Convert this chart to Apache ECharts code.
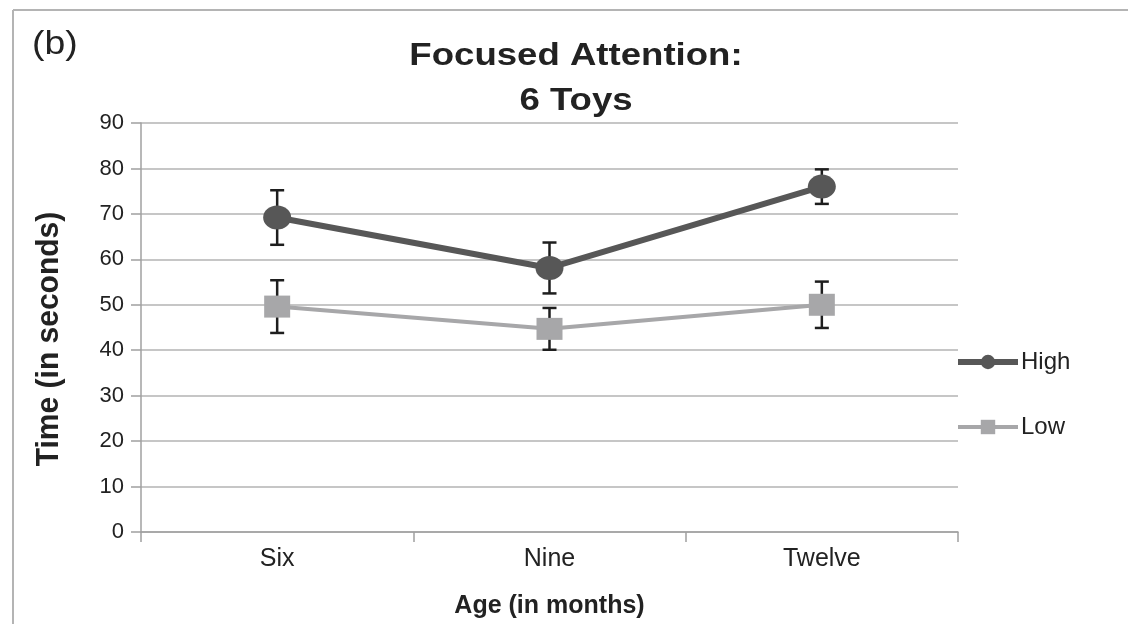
<!DOCTYPE html>
<html>
<head>
<meta charset="utf-8">
<script src="https://cdn.jsdelivr.net/npm/echarts@6/dist/echarts.min.js"></script>
<style>html,body{margin:0;padding:0;background:#fff;}#c{width:1128px;height:624px;}</style>
</head>
<body>
<div id="c"></div>
<script>
var categories = ['Six', 'Nine', 'Twelve'];
var highMean = [69.2, 58.1, 76.0];
var highErr = [6.0, 5.6, 3.8];
var lowMean = [49.6, 44.7, 50.0];
var lowErr = [5.8, 4.6, 5.1];
var yTicks = [0, 10, 20, 30, 40, 50, 60, 70, 80, 90];
var titleLines = ['Focused Attention:', '6 Toys'];

function errData(mean, err) {
  return mean.map(function (m, i) { return [i, m - err[i], m + err[i]]; });
}
function errRender(params, api) {
  var x = api.value(0);
  var lo = api.coord([x, api.value(1)]);
  var hi = api.coord([x, api.value(2)]);
  var hw = 7;
  var st = { stroke: '#1e1e1e', lineWidth: 2.5 };
  return {
    type: 'group',
    children: [
      { type: 'line', shape: { x1: lo[0], y1: lo[1], x2: hi[0], y2: hi[1] }, style: st },
      { type: 'line', shape: { x1: lo[0] - hw, y1: lo[1], x2: lo[0] + hw, y2: lo[1] }, style: st },
      { type: 'line', shape: { x1: hi[0] - hw, y1: hi[1], x2: hi[0] + hw, y2: hi[1] }, style: st }
    ]
  };
}

var chart = echarts.init(document.getElementById('c'));
var font = 'Liberation Sans, Arial, sans-serif';
chart.setOption({
  animation: false,
  backgroundColor: '#fff',
  graphic: [
    { type: 'line', shape: { x1: 13, y1: 10, x2: 1128, y2: 10 }, style: { stroke: '#b4b4b4', lineWidth: 2 } },
    { type: 'line', shape: { x1: 13, y1: 10, x2: 13, y2: 624 }, style: { stroke: '#b4b4b4', lineWidth: 2 } },
    { type: 'text', x: 32, y: 45, scaleX: 1.1,
      style: { text: '(b)', font: '34px ' + font, fill: '#222', textAlign: 'left', textVerticalAlign: 'middle' } },
    { type: 'text', x: 576, y: 56, scaleX: 1.18,
      style: { text: titleLines[0], font: 'bold 31px ' + font, fill: '#222', textAlign: 'center', textVerticalAlign: 'middle' } },
    { type: 'text', x: 576, y: 101, scaleX: 1.18,
      style: { text: titleLines[1], font: 'bold 31px ' + font, fill: '#222', textAlign: 'center', textVerticalAlign: 'middle' } },
    { type: 'text', x: 49, y: 339, rotation: Math.PI / 2, scaleY: 1.05,
      style: { text: 'Time (in seconds)', font: 'bold 30px ' + font, fill: '#222', textAlign: 'center', textVerticalAlign: 'middle' } }
  ],
  legend: {
    orient: 'vertical', left: 955, top: 350, itemGap: 41, padding: 0,
    itemWidth: 60, itemHeight: 18,
    textStyle: { fontFamily: font, fontSize: 24, color: '#222', padding: [0, 0, 0, -2] },
    data: [
      { name: 'High', lineStyle: { width: 6 } },
      { name: 'Low', lineStyle: { width: 4 } }
    ]
  },
  grid: { left: 141, right: 170, top: 123, bottom: 92 },
  xAxis: {
    type: 'category', data: categories, boundaryGap: true,
    name: 'Age (in months)', nameLocation: 'middle', nameGap: 62,
    nameTextStyle: { fontFamily: font, fontSize: 25, fontWeight: 'bold', color: '#222' },
    axisLine: { lineStyle: { color: '#a0a0a0', width: 1.5 } },
    axisTick: { show: true, interval: 0, length: 10, lineStyle: { color: '#a0a0a0', width: 1.5 } },
    axisLabel: { fontFamily: font, fontSize: 25, color: '#222', margin: 15 }
  },
  yAxis: {
    type: 'value', min: 0, max: 90, interval: 10,
    axisLine: { show: true, lineStyle: { color: '#a0a0a0', width: 1.5 } },
    axisTick: { show: true, length: 10, lineStyle: { color: '#a0a0a0', width: 1.5 } },
    axisLabel: { fontFamily: font, fontSize: 22, color: '#222', margin: 17,
      formatter: function (v) { return yTicks.indexOf(v) >= 0 ? String(v) : ''; } },
    splitLine: { lineStyle: { color: '#b3b3b3', width: 1.5 } }
  },
  series: [
    { type: 'custom', name: 'errHigh', renderItem: errRender, data: errData(highMean, highErr), z: 1, silent: true },
    { type: 'custom', name: 'errLow', renderItem: errRender, data: errData(lowMean, lowErr), z: 1, silent: true },
    {
      type: 'line', name: 'High', data: highMean, z: 3,
      symbol: 'circle', symbolSize: [28, 24],
      itemStyle: { color: '#575757' },
      lineStyle: { color: '#575757', width: 6 }
    },
    {
      type: 'line', name: 'Low', data: lowMean, z: 3,
      symbol: 'rect', symbolSize: [26, 22],
      itemStyle: { color: '#a7a7a9' },
      lineStyle: { color: '#a7a7a9', width: 4 }
    }
  ]
});
</script>
</body>
</html>
